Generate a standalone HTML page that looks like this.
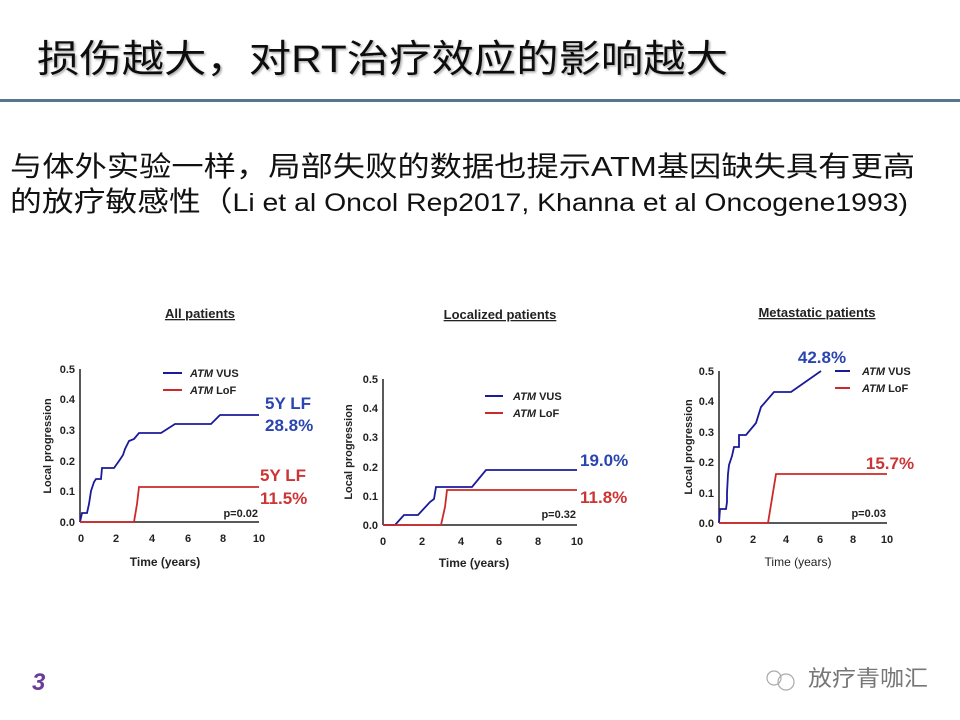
<!DOCTYPE html>
<html><head><meta charset="utf-8"><style>
html,body{margin:0;padding:0;background:#fff;}
svg{display:block;}
.cjk{font-family:"Liberation Sans","Noto Sans CJK SC",sans-serif;}
.ax{font-family:"Liberation Sans",sans-serif;font-weight:bold;font-size:11px;fill:#222;}
</style></head><body>
<svg width="960" height="720" viewBox="0 0 960 720" xmlns="http://www.w3.org/2000/svg">
<defs><filter id="sh" x="-5%" y="-20%" width="110%" height="140%"><feDropShadow dx="1.5" dy="1.5" stdDeviation="1" flood-color="#888" flood-opacity="0.7"/></filter></defs>
<text class="cjk" x="37" y="72" font-size="38" fill="#111" filter="url(#sh)" textLength="691" lengthAdjust="spacingAndGlyphs">损伤越大，对RT治疗效应的影响越大</text>
<rect x="0" y="99" width="960" height="3" fill="#5a7590"/>
<text class="cjk" x="10" y="176" font-size="28" fill="#111" textLength="905" lengthAdjust="spacingAndGlyphs">与体外实验一样，局部失败的数据也提示ATM基因缺失具有更高</text>
<text class="cjk" x="10" y="211" font-size="28" fill="#111" textLength="898" lengthAdjust="spacingAndGlyphs"><tspan>的放疗敏感性（</tspan><tspan font-size="25">Li et al Oncol Rep2017, Khanna et al Oncogene1993)</tspan></text>

<!-- Chart 1 -->
<g>
<text x="200" y="318" text-anchor="middle" font-family="Liberation Sans" font-weight="bold" font-size="13" fill="#222" text-decoration="underline">All patients</text>
<line x1="80" y1="369" x2="80" y2="522" stroke="#222" stroke-width="1.5"/>
<line x1="80" y1="522" x2="259" y2="522" stroke="#222" stroke-width="1.5"/>
<g class="ax" text-anchor="end">
<text x="75" y="526">0.0</text><text x="75" y="495">0.1</text><text x="75" y="465">0.2</text><text x="75" y="434">0.3</text><text x="75" y="403">0.4</text><text x="75" y="373">0.5</text>
</g>
<g class="ax" text-anchor="middle">
<text x="81" y="542">0</text><text x="116" y="542">2</text><text x="152" y="542">4</text><text x="188" y="542">6</text><text x="223" y="542">8</text><text x="259" y="542">10</text>
<text x="165" y="566" font-size="12">Time (years)</text>
</g>
<text class="ax" transform="translate(51,446) rotate(-90)" text-anchor="middle" font-size="12">Local progression</text>
<polyline fill="none" stroke="#1a1a9a" stroke-width="1.8" points="80,522 82,513 87,513 89,504 91,491 94,482 96,479 101,479 102,468 114,468 119,461 123,455 125,449 129,441 134,439 139,433 161,433 175,424 211,424 220,415 259,415"/>
<polyline fill="none" stroke="#cc2a2a" stroke-width="1.8" points="80,522 134,522 137,504 139,487 259,487"/>
<line x1="163" y1="373" x2="182" y2="373" stroke="#1a1a9a" stroke-width="2"/>
<line x1="163" y1="390" x2="182" y2="390" stroke="#cc2a2a" stroke-width="2"/>
<text class="ax" x="190" y="377" font-size="12"><tspan font-style="italic">ATM</tspan> VUS</text>
<text class="ax" x="190" y="394" font-size="12"><tspan font-style="italic">ATM</tspan> LoF</text>
<text class="cjk" x="265" y="409" font-size="17" font-weight="bold" fill="#2a45b0">5Y LF</text>
<text class="cjk" x="265" y="431" font-size="17" font-weight="bold" fill="#2a45b0">28.8%</text>
<text class="cjk" x="260" y="481" font-size="17" font-weight="bold" fill="#cc3535">5Y LF</text>
<text class="cjk" x="260" y="504" font-size="17" font-weight="bold" fill="#cc3535">11.5%</text>
<text class="ax" x="258" y="517" text-anchor="end">p=0.02</text>
</g>

<!-- Chart 2 -->
<g>
<text x="500" y="319" text-anchor="middle" font-family="Liberation Sans" font-weight="bold" font-size="13" fill="#222" text-decoration="underline">Localized patients</text>
<line x1="383" y1="379" x2="383" y2="525" stroke="#222" stroke-width="1.5"/>
<line x1="383" y1="525" x2="577" y2="525" stroke="#222" stroke-width="1.5"/>
<g class="ax" text-anchor="end">
<text x="378" y="529">0.0</text><text x="378" y="500">0.1</text><text x="378" y="471">0.2</text><text x="378" y="441">0.3</text><text x="378" y="412">0.4</text><text x="378" y="383">0.5</text>
</g>
<g class="ax" text-anchor="middle">
<text x="383" y="545">0</text><text x="422" y="545">2</text><text x="461" y="545">4</text><text x="499" y="545">6</text><text x="538" y="545">8</text><text x="577" y="545">10</text>
<text x="474" y="567" font-size="12">Time (years)</text>
</g>
<text class="ax" transform="translate(352,452) rotate(-90)" text-anchor="middle" font-size="12">Local progression</text>
<polyline fill="none" stroke="#1a1a9a" stroke-width="1.8" points="383,525 395,525 404,515 418,515 430,502 434,499 436,487 472,487 486,470 577,470"/>
<polyline fill="none" stroke="#cc2a2a" stroke-width="1.8" points="383,525 441,525 445,507 447,490 577,490"/>
<line x1="485" y1="396" x2="503" y2="396" stroke="#1a1a9a" stroke-width="2"/>
<line x1="485" y1="413" x2="503" y2="413" stroke="#cc2a2a" stroke-width="2"/>
<text class="ax" x="513" y="400" font-size="12"><tspan font-style="italic">ATM</tspan> VUS</text>
<text class="ax" x="513" y="417" font-size="12"><tspan font-style="italic">ATM</tspan> LoF</text>
<text class="cjk" x="580" y="466" font-size="17" font-weight="bold" fill="#2a45b0">19.0%</text>
<text class="cjk" x="580" y="503" font-size="17" font-weight="bold" fill="#cc3535">11.8%</text>
<text class="ax" x="576" y="518" text-anchor="end">p=0.32</text>
</g>

<!-- Chart 3 -->
<g>
<text x="817" y="317" text-anchor="middle" font-family="Liberation Sans" font-weight="bold" font-size="13" fill="#222" text-decoration="underline">Metastatic patients</text>
<line x1="719" y1="371" x2="719" y2="523" stroke="#222" stroke-width="1.5"/>
<line x1="719" y1="523" x2="887" y2="523" stroke="#222" stroke-width="1.5"/>
<g class="ax" text-anchor="end">
<text x="714" y="527">0.0</text><text x="714" y="497">0.1</text><text x="714" y="466">0.2</text><text x="714" y="436">0.3</text><text x="714" y="405">0.4</text><text x="714" y="375">0.5</text>
</g>
<g class="ax" text-anchor="middle">
<text x="719" y="543">0</text><text x="753" y="543">2</text><text x="786" y="543">4</text><text x="820" y="543">6</text><text x="853" y="543">8</text><text x="887" y="543">10</text>
<text x="798" y="566" font-size="12" font-weight="normal">Time (years)</text>
</g>
<text class="ax" transform="translate(692,447) rotate(-90)" text-anchor="middle" font-size="12">Local progression</text>
<polyline fill="none" stroke="#1a1a9a" stroke-width="1.8" points="719,523 720,509 726,509 727,502 727,493 728,474 729,465 732,456 734,447 739,447 739,435 746,435 756,423 761,407 774,392 791,392 821,371"/>
<polyline fill="none" stroke="#cc2a2a" stroke-width="1.8" points="719,523 768,523 776,474 887,474"/>
<line x1="835" y1="371" x2="850" y2="371" stroke="#1a1a9a" stroke-width="2"/>
<line x1="835" y1="388" x2="850" y2="388" stroke="#cc2a2a" stroke-width="2"/>
<text class="ax" x="862" y="375" font-size="12"><tspan font-style="italic">ATM</tspan> VUS</text>
<text class="ax" x="862" y="392" font-size="12"><tspan font-style="italic">ATM</tspan> LoF</text>
<text class="cjk" x="822" y="363" text-anchor="middle" font-size="17" fill="#2a45b0" font-weight="bold">42.8%</text>
<text class="cjk" x="890" y="469" text-anchor="middle" font-size="17" fill="#cc3535" font-weight="bold">15.7%</text>
<text class="ax" x="886" y="517" text-anchor="end">p=0.03</text>
</g>

<text x="32" y="690" font-family="Liberation Sans" font-style="italic" font-weight="bold" font-size="24" fill="#6a3d9a">3</text>
<circle cx="774" cy="678" r="7" fill="none" stroke="#aaa" stroke-width="1.2"/>
<circle cx="786" cy="682" r="8" fill="none" stroke="#aaa" stroke-width="1.2"/>
<text class="cjk" x="808" y="686" font-size="22" fill="#777" textLength="120" lengthAdjust="spacingAndGlyphs">放疗青咖汇</text>
</svg>
</body></html>
